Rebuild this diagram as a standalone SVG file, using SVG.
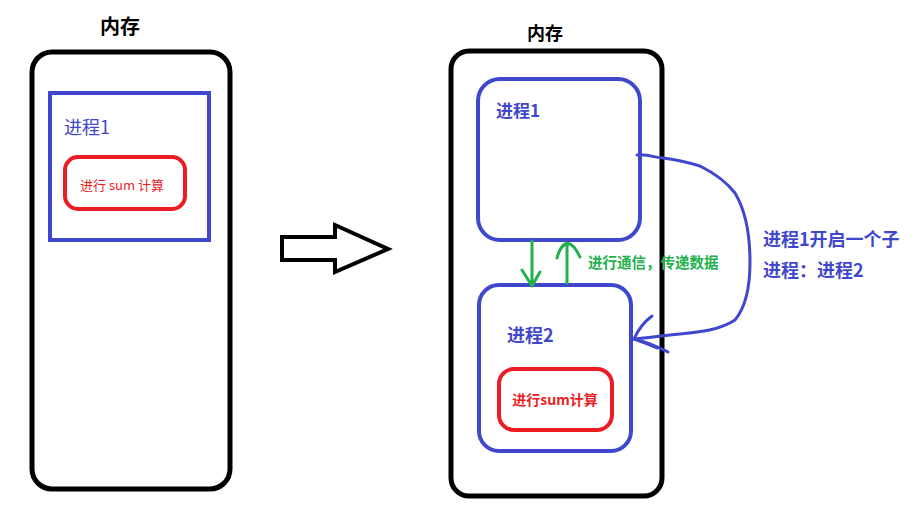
<svg xmlns="http://www.w3.org/2000/svg" width="920" height="526" viewBox="0 0 920 526">
<style>
text{font-family:"Noto Sans CJK SC","Liberation Sans",sans-serif}
.mem{fill:none;stroke:#000;stroke-width:5}
.proc{fill:none;stroke:#3f48cc;stroke-width:4}
.calc{fill:none;stroke:#ed1c24;stroke-width:4}
.blue{fill:#3f48cc}
.red{fill:#ed1c24}
.green{fill:#22b14c}
.gline{fill:none;stroke:#22b14c;stroke-width:3;stroke-linecap:round;stroke-linejoin:round}
.bline{fill:none;stroke:#3f48cc;stroke-width:3;stroke-linecap:round;stroke-linejoin:round}
</style>
<rect width="920" height="526" fill="#fff"/>
<g id="left-memory">
<text x="120" y="34" font-size="20" font-weight="bold" text-anchor="middle" fill="#000">内存</text>
<rect class="mem" x="32" y="52" width="198" height="437" rx="20"/>
</g>
<g id="left-process1">
<rect class="proc" x="50" y="93" width="159" height="147"/>
<text class="blue" x="64" y="134" font-size="18">进程1</text>
</g>
<g id="left-calc">
<rect class="calc" x="65" y="157" width="120" height="52" rx="13"/>
<text class="red" x="122" y="190" font-size="13" text-anchor="middle">进行 sum 计算</text>
</g>
<g id="big-arrow">
<polygon points="282,237 335,237 335,225 388,249 335,272 335,260 282,260" fill="#fff" stroke="#000" stroke-width="4" stroke-linejoin="miter"/>
</g>
<g id="right-memory">
<text x="545" y="40" font-size="18" font-weight="bold" text-anchor="middle" fill="#000">内存</text>
<rect class="mem" x="451" y="51" width="211" height="445" rx="18"/>
</g>
<g id="right-process1">
<rect class="proc" x="478" y="79" width="162" height="161" rx="22"/>
<text class="blue" x="496" y="117" font-size="17" font-weight="bold">进程1</text>
</g>
<g id="right-process2">
<rect class="proc" x="479" y="285" width="152" height="166" rx="20"/>
<text class="blue" x="507" y="342" font-size="18" font-weight="bold">进程2</text>
</g>
<g id="right-calc">
<rect class="calc" x="499" y="369" width="113" height="61" rx="15"/>
<text class="red" x="555" y="405" font-size="14" font-weight="bold" text-anchor="middle">进行sum计算</text>
</g>
<g id="connectors">
<path class="gline" d="M532,241 L532,286 M522,270 L532,286 L540,272"/>
<path class="gline" d="M567,283 L567,244 M557,258 Q560,246 567,243 Q574,244 580,257"/>
<text class="green" x="588" y="268" font-size="14.5" font-weight="bold">进行通信，传递数据</text>
<path class="bline" d="M637,155 C650,154 655,158 663,158 C680,160 690,163 700,166 C712,172 725,180 735,193 C744,208 750,230 750,262 C750,290 745,308 735,320 C720,330 700,332 680,334 C660,336 645,338 634,339"/>
<path class="bline" d="M634,339 Q640,325 652,316 M634,339 Q650,343 668,352 M634,339 Q646,343 657,348"/>
</g>
<g id="annotation">
<text class="blue" x="763" y="246" font-size="18" font-weight="bold">进程1开启一个子</text>
<text class="blue" x="763" y="277" font-size="18" font-weight="bold">进程：进程2</text>
</g>
</svg>
